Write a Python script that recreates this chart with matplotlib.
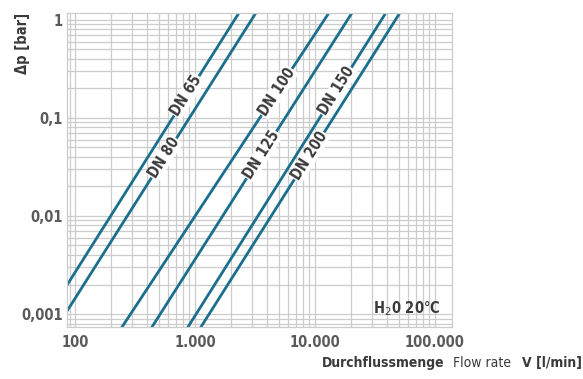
import numpy as np
import matplotlib
matplotlib.use("Agg")
import matplotlib.pyplot as plt
from matplotlib.ticker import NullFormatter, LogLocator

# ---- data ----
series_names = ["DN 65", "DN 80", "DN 100", "DN 125", "DN 150", "DN 200"]
# flow rate [l/min] at the two ends of each straight line
dp_ends = [0.0005, 1.5]
q_dn65 = [42.2, 2636]
q_dn80 = [57.8, 3652]
q_dn100 = [200, 14900]
q_dn125 = [358, 23100]
q_dn150 = [716, 44200]
q_dn200 = [917, 57900]
flows = [q_dn65, q_dn80, q_dn100, q_dn125, q_dn150, q_dn200]
# pressure drop at which each label sits
label_dp = [0.168, 0.039, 0.184, 0.042, 0.188, 0.041]

x_ticks = [100, 1000, 10000, 100000]
x_ticklabels = ["100", "1.000", "10.000", "100.000"]
y_ticks = [0.001, 0.01, 0.1, 1]
y_ticklabels = ["0,001", "0,01", "0,1", "1"]

line_color = "#1b6e8e"
grid_color = "#cccccc"
text_dark = "#3a3a3a"
tick_gray = "#5a5a5a"

fig = plt.figure(figsize=(5.83, 3.79), dpi=100)
ax = fig.add_axes([0.115, 0.137, 0.66, 0.829])
ax.set_xscale("log")
ax.set_yscale("log")
ax.set_xlim(85.8, 138600)
ax.set_ylim(0.000736, 1.179)

ax.xaxis.set_minor_locator(LogLocator(base=10, subs=np.arange(2, 10)))
ax.yaxis.set_minor_locator(LogLocator(base=10, subs=np.arange(2, 10)))
ax.xaxis.set_minor_formatter(NullFormatter())
ax.yaxis.set_minor_formatter(NullFormatter())
ax.set_xticks(x_ticks)
ax.set_xticklabels(x_ticklabels)
ax.set_yticks(y_ticks)
ax.set_yticklabels(y_ticklabels)
ax.grid(True, which="both", color=grid_color, linewidth=0.9)
ax.set_axisbelow(True)
ax.tick_params(axis="y", which="both", length=0, pad=3)
ax.tick_params(axis="x", which="both", length=0, pad=6)
for lab in ax.get_xticklabels() + ax.get_yticklabels():
    lab.set_fontsize(10.5)
    lab.set_fontweight("bold")
    lab.set_fontstretch("condensed")
    lab.set_color(tick_gray)
for s in ax.spines.values():
    s.set_color(grid_color)
    s.set_linewidth(0.9)

for name, q, ldp in zip(series_names, flows, label_dp):
    ax.plot(q, dp_ends, color=line_color, linewidth=2.0, solid_capstyle="butt")
    t = (np.log10(ldp) - np.log10(dp_ends[0])) / (np.log10(dp_ends[1]) - np.log10(dp_ends[0]))
    lq = 10 ** (np.log10(q[0]) + t * (np.log10(q[1]) - np.log10(q[0])))
    p1 = ax.transData.transform((q[0], dp_ends[0]))
    p2 = ax.transData.transform((q[1], dp_ends[1]))
    ang = np.degrees(np.arctan2(p2[1] - p1[1], p2[0] - p1[0]))
    ax.text(lq, ldp, name, rotation=ang, rotation_mode="anchor",
            ha="center", va="center", fontsize=10.5, fontweight="bold",
            fontstretch="condensed", color=text_dark,
            bbox=dict(facecolor="white", edgecolor="none", pad=0.5))

ax.text(0.97, 0.06, "H$_2$0 20°C", transform=ax.transAxes, ha="right", va="center",
        fontsize=10.5, fontweight="bold", fontstretch="condensed", color=text_dark)

fig.text(0.038, 0.885, "Δp [bar]", rotation=90, ha="center", va="center",
         fontsize=10.5, fontweight="bold", fontstretch="condensed", color=text_dark)

# x-axis title in three parts, laid out right to left
renderer = fig.canvas.get_renderer()
y_lab = 0.025
t3 = fig.text(0.998, y_lab, "V [l/min]", ha="right", va="bottom", fontsize=10,
              fontweight="bold", fontstretch="condensed", color=text_dark)
bb3 = t3.get_window_extent(renderer)
W = fig.bbox.width
x2 = (bb3.x0 - 11) / W
t2 = fig.text(x2, y_lab, "Flow rate", ha="right", va="bottom", fontsize=10,
              fontstretch="condensed", color=text_dark)
bb2 = t2.get_window_extent(renderer)
x1 = (bb2.x0 - 8) / W
fig.text(x1, y_lab, "Durchflussmenge", ha="right", va="bottom", fontsize=10,
         fontweight="bold", fontstretch="condensed", color=text_dark)

fig.savefig("out.png", dpi=100, facecolor="white")
